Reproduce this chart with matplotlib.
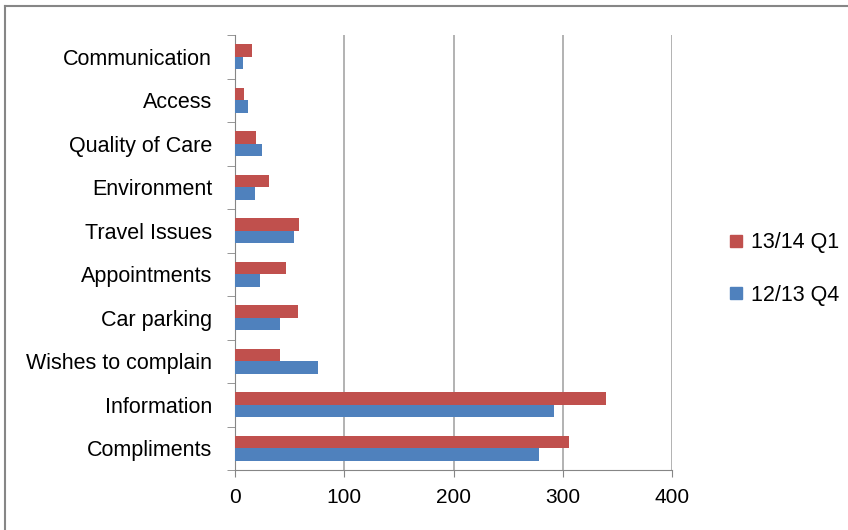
import numpy as np
import matplotlib.pyplot as plt
from matplotlib.lines import Line2D

# categories from bottom to top
categories = ["Compliments", "Information", "Wishes to complain", "Car parking",
              "Appointments", "Travel Issues", "Environment", "Quality of Care",
              "Access", "Communication"]
q4_1213 = [278, 292, 76, 41, 23, 54, 18, 25, 12, 7]
q1_1314 = [306, 340, 41, 58, 47, 59, 31, 19, 8, 16]
series_names = ["12/13 Q4", "13/14 Q1"]
xticks = [0, 100, 200, 300, 400]

red = "#C0504D"
blue = "#4F81BD"

plt.rcParams['font.family'] = ['Liberation Sans', 'DejaVu Sans']

fig = plt.figure(figsize=(8.48, 5.30), dpi=100)
W, H = 848, 530
ax = fig.add_axes([235 / W, 1 - 470 / H, (672 - 235) / W, (470 - 35) / H])

y = np.arange(len(categories))
h = 1 / 3.5
ax.barh(y - h / 2, q4_1213, height=h, color=blue, label=series_names[0], zorder=3)
ax.barh(y + h / 2, q1_1314, height=h, color=red, label=series_names[1], zorder=3)

ax.set_xlim(0, 400)
ax.set_ylim(-0.5, len(categories) - 0.5)
ax.set_xticks(xticks)
ax.set_xticklabels([str(v) for v in xticks], fontsize=15)
ax.set_yticks(y)
ax.set_yticklabels(categories, fontsize=15.5)
ax.set_yticks(np.arange(-0.5, len(categories), 1), minor=True)
ax.tick_params(axis='y', which='major', length=0, pad=16.5)
ax.tick_params(axis='y', which='minor', length=6, color='#868686')
ax.tick_params(axis='x', length=5, color='#868686', pad=8)
ax.grid(axis='x', color='#A6A6A6', linewidth=1.2, zorder=0)
for s in ['top', 'right']:
    ax.spines[s].set_visible(False)
ax.spines['left'].set_color('#868686')
ax.spines['bottom'].set_color('#868686')

handles = [Line2D([], [], marker='s', linestyle='none', color=red, markersize=8),
           Line2D([], [], marker='s', linestyle='none', color=blue, markersize=8)]
fig.legend(handles, [series_names[1], series_names[0]], loc='center left',
           bbox_to_anchor=(708 / W, 1 - 269 / H), frameon=False, fontsize=15.5,
           handletextpad=0.3, labelspacing=1.45, handlelength=0.8)

# outer chart border
fig.add_artist(Line2D([5 / W, 5 / W], [0, 1 - 6 / H], color='#868686', lw=1.5))
fig.add_artist(Line2D([5 / W, 1], [1 - 6 / H, 1 - 6 / H], color='#868686', lw=1.5))

fig.savefig('out.png', dpi=100)
